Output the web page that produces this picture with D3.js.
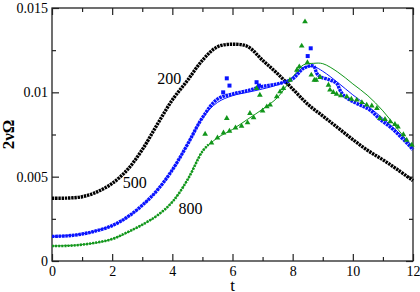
<!DOCTYPE html>
<html>
<head>
<meta charset="utf-8">
<script src="https://cdn.jsdelivr.net/npm/d3@7"></script>
<style>
  body { margin: 0; background: #fff; }
  svg text { font-family: "Liberation Serif", "Times New Roman", "Liberation Sans", Arimo, Arial, sans-serif; }
</style>
</head>
<body>
<div id="chart"></div>
<script>
// ---- data ----
// 200 : black dotted markers
var t200 = [0, 0.5, 1, 1.5, 2, 2.5, 3, 3.5, 4, 4.5, 5, 5.5, 6, 6.5, 7, 7.5, 8, 8.5, 9, 9.5, 10, 10.5, 11, 11.5, 12];
var v200 = [0.00372, 0.00373, 0.00381, 0.0041, 0.0046, 0.0054, 0.0066, 0.0081, 0.00955, 0.0107, 0.0119, 0.0127, 0.01285, 0.01272, 0.0119, 0.0111, 0.0102, 0.0093, 0.0086, 0.0079, 0.0072, 0.00655, 0.006, 0.0054, 0.00476];

// 500 : blue squares (dense) + blue solid line
var t500 = [0, 0.5, 1, 1.5, 2, 2.5, 3, 3.5, 4, 4.5, 5, 5.5, 6, 6.5, 7, 7.5, 8, 8.36, 8.69, 8.8, 8.91, 9.24, 9.46, 9.57, 9.68, 9.9, 10.24, 10.57, 10.9, 11.24, 11.57, 11.85, 12];
var v500 = [0.00146, 0.00149, 0.0016, 0.0018, 0.0021, 0.0026, 0.0033, 0.0042, 0.0054, 0.0069, 0.0085, 0.0096, 0.0099, 0.0101, 0.01035, 0.0105, 0.0108, 0.01142, 0.01156, 0.01113, 0.01093, 0.01073, 0.01053, 0.01014, 0.00984, 0.00955, 0.00925, 0.00895, 0.0084, 0.00795, 0.0074, 0.0069, 0.0066];
var t500out = [5.69, 5.81, 5.9, 6.8, 6.88, 8.5, 8.6];
var v500out = [0.01, 0.01083, 0.0104, 0.0106, 0.0104, 0.01215, 0.01261];
var t500line = [0, 1, 2, 2.5, 3, 3.5, 4, 4.5, 5, 5.5, 6, 6.5, 7, 7.5, 8, 8.35, 8.7, 9, 9.5, 10, 10.5, 11, 11.5, 12];
var v500line = [0.00146, 0.0016, 0.0021, 0.0026, 0.0033, 0.0042, 0.0054, 0.0069, 0.0085, 0.0094, 0.0098, 0.01, 0.0102, 0.01045, 0.0109, 0.01146, 0.01152, 0.01125, 0.01058, 0.00985, 0.00918, 0.00845, 0.00765, 0.0068];

// 800 : green triangles + green solid line
var t800 = [0, 0.5, 1, 1.5, 2, 2.5, 3, 3.5, 4, 4.5, 5, 5.2];
var v800 = [0.00089, 0.0009, 0.00097, 0.0011, 0.0013, 0.0017, 0.00215, 0.0027, 0.0035, 0.0048, 0.0065, 0.0069];
var t800pts = [5.09, 5.3, 5.5, 5.7, 5.81, 5.9, 6.1, 6.3, 6.5, 6.58, 6.7, 6.8, 6.91, 7.0, 7.14, 7.25, 7.47, 7.58, 7.69, 7.91, 8.14, 8.22, 8.3, 8.41, 8.49, 8.62, 8.72, 8.78, 8.91, 9.19, 9.24, 9.35, 9.46, 9.6, 9.8, 9.95, 10.13, 10.3, 10.46, 10.63, 10.8, 10.9, 11.07, 11.24, 11.4, 11.5, 11.68, 11.79, 11.96];
var v800pts = [0.00753, 0.007, 0.0073, 0.0076, 0.00846, 0.0077, 0.0079, 0.008, 0.0082, 0.00876, 0.0085, 0.01024, 0.00984, 0.0089, 0.00915, 0.00925, 0.00974, 0.01004, 0.01024, 0.01073, 0.01132, 0.01152, 0.01275, 0.01419, 0.01176, 0.01103, 0.01073, 0.01073, 0.01089, 0.01043, 0.01014, 0.01, 0.0099, 0.0098, 0.00974, 0.0096, 0.00955, 0.0094, 0.00925, 0.0092, 0.00905, 0.00846, 0.0084, 0.00826, 0.0081, 0.00796, 0.0075, 0.00717, 0.00688];
var t800line = [0, 1, 2, 3, 3.5, 4, 4.5, 5, 5.5, 6, 6.5, 7, 7.5, 8, 8.35, 8.7, 9, 9.5, 10, 10.5, 11, 11.5, 12];
var v800line = [0.00089, 0.00097, 0.0013, 0.00215, 0.0027, 0.0035, 0.0048, 0.0065, 0.0073, 0.0078, 0.0084, 0.009, 0.0097, 0.0109, 0.01162, 0.01172, 0.0117, 0.0112, 0.0105, 0.0098, 0.0089, 0.0078, 0.0067];

var xTicks = [0, 2, 4, 6, 8, 10, 12];
var xMinor = [1, 3, 5, 7, 9, 11];
var yTicks = [0, 0.005, 0.01, 0.015];
var yMinor = [0.0025, 0.0075, 0.0125];
var curveLabels = ["200", "500", "800"];

// set the dimensions and margins of the graph
var margin = {top: 8, right: 7, bottom: 31, left: 52},
    width = 420 - margin.left - margin.right,
    height = 292 - margin.top - margin.bottom;

var svg = d3.select("#chart")
  .append("svg")
    .attr("width", width + margin.left + margin.right)
    .attr("height", height + margin.top + margin.bottom)
  .append("g")
    .attr("transform", "translate(" + margin.left + "," + margin.top + ")");

var x = d3.scaleLinear().domain([0, 12]).range([0, width]);
var y = d3.scaleLinear().domain([0, 0.015]).range([height, 0]);

function zip(ts, vs) { return ts.map(function(t, i) { return [t, vs[i]]; }); }

var line = d3.line()
  .x(function(d) { return x(d[0]); })
  .y(function(d) { return y(d[1]); })
  .curve(d3.curveCatmullRom.alpha(0.5));

// axes, ticks pointing inward
function styleAxis(g) {
  g.attr("font-size", 14);
  g.select(".domain").remove();
  g.selectAll("line").attr("stroke", "#222").attr("stroke-width", 1.2);
  g.selectAll("text").attr("fill", "#000");
}
var fmt = function(d) { return d === 0 ? "0" : String(+d.toFixed(3)); };

svg.append("g").attr("transform", "translate(0," + height + ")")
  .call(d3.axisBottom(x).tickValues(xTicks).tickSize(-7).tickPadding(5).tickFormat(d3.format("d")))
  .call(styleAxis);
svg.append("g").attr("transform", "translate(0," + height + ")")
  .call(d3.axisBottom(x).tickValues(xMinor).tickSize(-4).tickFormat(""))
  .call(styleAxis);
svg.append("g")
  .call(d3.axisTop(x).tickValues(xTicks).tickSize(-7).tickFormat(""))
  .call(styleAxis);
svg.append("g")
  .call(d3.axisTop(x).tickValues(xMinor).tickSize(-4).tickFormat(""))
  .call(styleAxis);

svg.append("g")
  .call(d3.axisLeft(y).tickValues(yTicks).tickSize(-7).tickPadding(4).tickFormat(fmt))
  .call(styleAxis);
svg.append("g")
  .call(d3.axisLeft(y).tickValues(yMinor).tickSize(-4).tickFormat(""))
  .call(styleAxis);
svg.append("g").attr("transform", "translate(" + width + ",0)")
  .call(d3.axisRight(y).tickValues(yTicks).tickSize(-7).tickFormat(""))
  .call(styleAxis);
svg.append("g").attr("transform", "translate(" + width + ",0)")
  .call(d3.axisRight(y).tickValues(yMinor).tickSize(-4).tickFormat(""))
  .call(styleAxis);

// frame
svg.append("rect")
  .attr("width", width).attr("height", height)
  .attr("fill", "none").attr("stroke", "#222").attr("stroke-width", 1.3);

var GREEN = "#11961a", BLUE = "#0a14ff";

// solid lines
svg.append("path").datum(zip(t800line, v800line))
  .attr("d", line).attr("fill", "none").attr("stroke", GREEN).attr("stroke-width", 1);
svg.append("path").datum(zip(t500line, v500line))
  .attr("d", line).attr("fill", "none").attr("stroke", BLUE).attr("stroke-width", 1);

// dense marker runs drawn as dotted strokes
svg.append("path").datum(zip(t200, v200))
  .attr("d", line).attr("fill", "none").attr("stroke", "#000")
  .attr("stroke-width", 3.4).attr("stroke-dasharray", "2.4,0.8");
svg.append("path").datum(zip(t500, v500))
  .attr("d", line).attr("fill", "none").attr("stroke", BLUE)
  .attr("stroke-width", 3.4).attr("stroke-dasharray", "2.6,0.7");
svg.append("path").datum(zip(t800, v800))
  .attr("d", line).attr("fill", "none").attr("stroke", GREEN)
  .attr("stroke-width", 2.6).attr("stroke-dasharray", "2,1.1");

// individual markers
svg.append("g").selectAll("path")
  .data(zip(t500out, v500out)).enter().append("path")
    .attr("transform", function(d) { return "translate(" + x(d[0]) + "," + y(d[1]) + ")"; })
    .attr("d", d3.symbol().type(d3.symbolSquare).size(16))
    .attr("fill", BLUE);
svg.append("g").selectAll("path")
  .data(zip(t800pts, v800pts)).enter().append("path")
    .attr("transform", function(d) { return "translate(" + x(d[0]) + "," + y(d[1]) + ")"; })
    .attr("d", d3.symbol().type(d3.symbolTriangle).size(14))
    .attr("fill", GREEN);

// curve labels
var labelPos = [[3.9, 0.0105], [2.75, 0.0043], [4.6, 0.0028]];
svg.append("g").selectAll("text")
  .data(curveLabels).enter().append("text")
    .attr("x", function(d, i) { return x(labelPos[i][0]); })
    .attr("y", function(d, i) { return y(labelPos[i][1]); })
    .attr("text-anchor", "middle")
    .attr("font-size", "16px")
    .text(function(d) { return d; });

// X axis label
svg.append("text")
  .attr("text-anchor", "middle")
  .attr("x", width / 2)
  .attr("y", height + margin.bottom - 1)
  .attr("font-size", "17px")
  .text("t");

// Y axis label
svg.append("text")
  .attr("text-anchor", "middle")
  .attr("transform", "rotate(-90)")
  .attr("x", -height / 2)
  .attr("y", 0 - margin.left + 14)
  .attr("font-size", "17px")
  .attr("font-weight", "bold")
  .text("2νΩ");
</script>
</body>
</html>
